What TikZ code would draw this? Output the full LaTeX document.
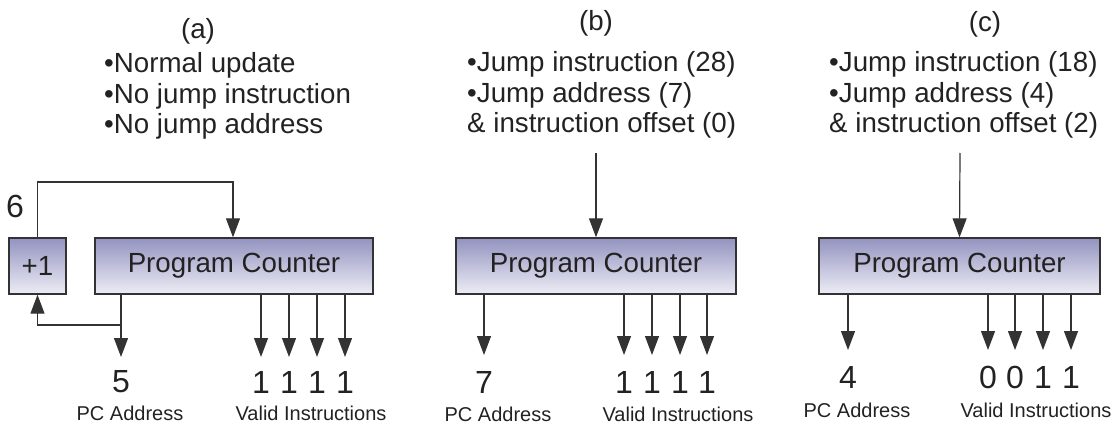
\documentclass[tikz,border=0pt]{standalone}
\usepackage{fontspec}
\setmainfont{Liberation Sans}
\usetikzlibrary{arrows.meta}
\definecolor{txt}{HTML}{222222}
\definecolor{boxtop}{HTML}{9393C0}
\definecolor{boxbot}{HTML}{EDEDF6}
\definecolor{edge}{HTML}{333333}
\begin{document}
\begin{tikzpicture}[x=1pt,y=-1pt,
  every node/.style={text=txt, inner sep=0pt},
  pcbox/.style={draw=edge, line width=1.4pt, top color=boxtop, bottom color=boxbot,
    minimum height=56pt, font=\fontsize{27.7}{31}\selectfont},
  big/.style={font=\fontsize{27.7}{31}\selectfont},
  digit/.style={font=\fontsize{32}{34}\selectfont},
  bul/.style={font=\fontsize{27.7}{30.5}\selectfont, align=left, anchor=west},
  small/.style={font=\fontsize{20}{24}\selectfont},
  arr/.style={draw=edge, line width=1.2pt, -{Triangle[length=19pt,width=14pt]}},
  ln/.style={draw=edge, line width=1.2pt}]
\useasboundingbox (0,0) rectangle (1118,425);

% ---------- (a) ----------
\node[big] (ta) at (198,31) {(a)};
\node[bul] (la) at (104,96) {•Normal update\\•No jump instruction\\•No jump address};
\node[pcbox, minimum width=57pt] (plus) at (37.5,266) {+1};
\node[pcbox, minimum width=278pt] (pca) at (234,266) {Program Counter};
\node[digit] (six) at (15,206) {6};
\coordinate (a-fb) at (233,182);
\draw[arr] (plus.north) |- (a-fb) -- (a-fb |- pca.north);
\coordinate (a-pc) at (121,357);
\coordinate (a-br) at (121,325);
\draw[arr] (a-pc |- pca.south) -- (a-pc);
\draw[arr] (a-br) -| (plus.south);
\foreach \i/\x in {1/261,2/289,3/317,4/345}{
  \coordinate (a-v\i) at (\x,357);
  \draw[arr] (a-v\i |- pca.south) -- (a-v\i);
  \node[digit] (a-d\i) at (\x,382) {1};
}
\node[digit] (a-addr) at (121,382) {5};
\node[small] (a-pcl) at (130,413) {PC Address};
\node[small] (a-vil) at (311,413) {Valid Instructions};

% ---------- (b) ----------
\node[big] (tb) at (596,23) {(b)};
\node[bul] (lb) at (467,95) {•Jump instruction (28)\\•Jump address (7)\\\& instruction offset (0)};
\node[pcbox, minimum width=280pt] (pcb) at (596,266) {Program Counter};
\coordinate (b-in) at (596,153);
\draw[arr] (b-in) -- (pcb.north);
\coordinate (b-pc) at (484,355);
\draw[arr] (b-pc |- pcb.south) -- (b-pc);
\foreach \i/\x in {1/624,2/652,3/680,4/707}{
  \coordinate (b-v\i) at (\x,355);
  \draw[arr] (b-v\i |- pcb.south) -- (b-v\i);
  \node[digit] (b-d\i) at (\x,382) {1};
}
\node[digit] (b-addr) at (484,382) {7};
\node[small] (b-pcl) at (498,414) {PC Address};
\node[small] (b-vil) at (678,414) {Valid Instructions};

% ---------- (c) ----------
\node[big] (tc) at (985,24) {(c)};
\node[bul] (lc) at (829,95) {•Jump instruction (18)\\•Jump address (4)\\\& instruction offset (2)};
\node[pcbox, minimum width=281pt] (pcc) at (959.5,266) {Program Counter};
\coordinate (c-in) at (960,153);
\draw[arr] (c-in) -- (pcc.north);
\coordinate (c-pc) at (848,350);
\draw[arr] (c-pc |- pcc.south) -- (c-pc);
\foreach \i/\x/\v in {1/988/0,2/1015/0,3/1043/1,4/1071/1}{
  \coordinate (c-v\i) at (\x,350);
  \draw[arr] (c-v\i |- pcc.south) -- (c-v\i);
  \node[digit] (c-d\i) at (\x,377) {\v};
}
\node[digit] (c-addr) at (848,377) {4};
\node[small] (c-pcl) at (857,410) {PC Address};
\node[small] (c-vil) at (1036,410) {Valid Instructions};
\end{tikzpicture}
\end{document}
